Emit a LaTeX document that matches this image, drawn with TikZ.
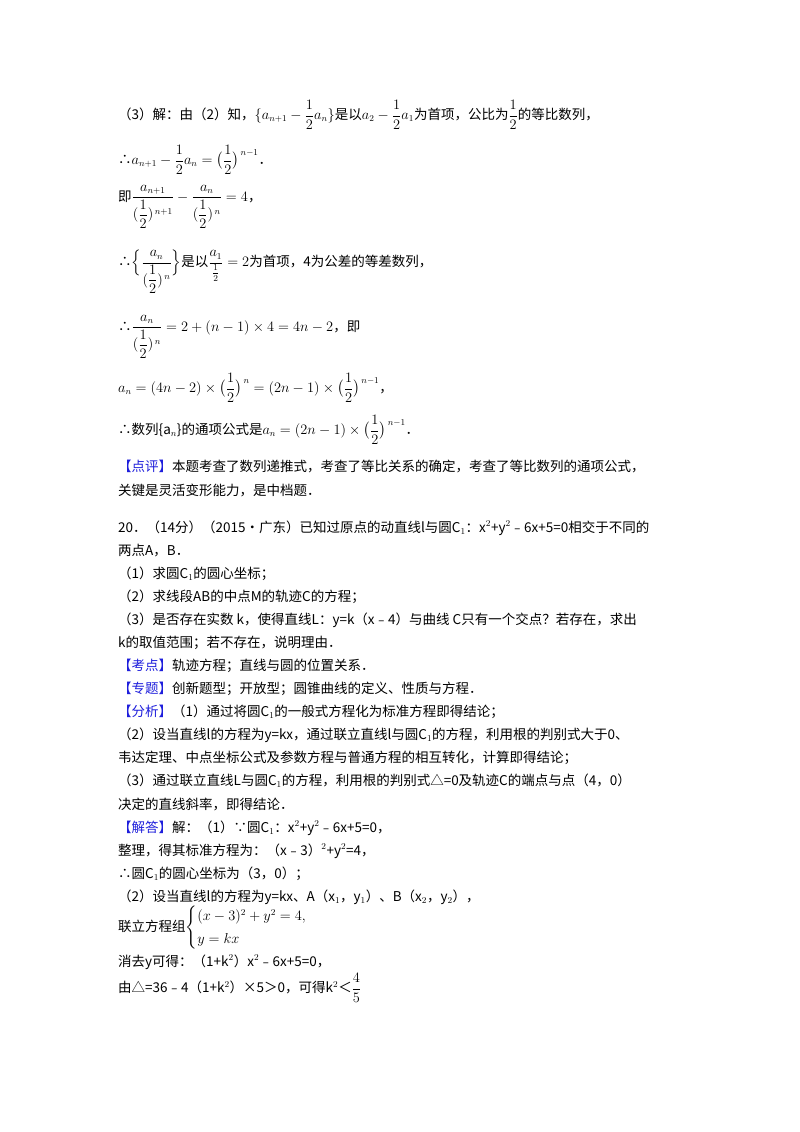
\documentclass[tikz,border=0pt]{standalone}
\usepackage{fontspec}
\usepackage{amsmath}
\setmainfont{Noto Sans CJK SC}
\definecolor{tag}{RGB}{30,30,220}
\newcommand{\hf}{\dfrac{1}{2}}
\begin{document}
\begin{tikzpicture}[x=1pt,y=-1pt,every node/.style={anchor=west,inner sep=0pt,font=\fontsize{13.5}{16}\selectfont}]
\useasboundingbox[fill=white] (0,0) rectangle (800,1132);
\def\L{118}
\node (l1) at (\L,115) {（3）解：由（2）知，$\{a_{n+1}-\hf a_n\}$是以$a_2-\hf a_1$为首项，公比为$\hf$的等比数列，};
\node (l2) at (\L,160) {∴$a_{n+1}-\hf a_n=\bigl(\hf\bigr)^{\,n-1}$．};
\node (l3) at (\L,207) {即$\dfrac{a_{n+1}}{(\hf)^{\,n+1}}-\dfrac{a_n}{(\hf)^{\,n}}=4$，};
\node (l4) at (\L,272) {∴$\Bigl\{\dfrac{a_n}{(\hf)^{\,n}}\Bigr\}$是以$\dfrac{a_1}{\frac12}=2$为首项，4为公差的等差数列，};
\node (l5) at (\L,337) {∴$\dfrac{a_n}{(\hf)^{\,n}}=2+(n-1)\times4=4n-2$，即};
\node (l6) at (\L,388) {$a_n=(4n-2)\times\bigl(\hf\bigr)^{\,n}=(2n-1)\times\bigl(\hf\bigr)^{\,n-1}$，};
\node (l7) at (\L,430) {∴数列\{a$_n$\}的通项公式是$a_n=(2n-1)\times\bigl(\hf\bigr)^{\,n-1}$．};
\node (l8) at (\L,466) {{\color{tag}【点评】}本题考查了数列递推式，考查了等比关系的确定，考查了等比数列的通项公式，};
\node (l9) at (\L,490) {关键是灵活变形能力，是中档题．};
\node (p1) at (\L,528) {20．（14分）（2015•广东）已知过原点的动直线l与圆C$_1$：x$^2$+y$^2$﹣6x+5=0相交于不同的};
\node (p2) at (\L,551) {两点A，B．};
\node (p3) at (\L,574) {（1）求圆C$_1$的圆心坐标；};
\node (p4) at (\L,597) {（2）求线段AB的中点M的轨迹C的方程；};
\node (p5) at (\L,620) {（3）是否存在实数 k，使得直线L：y=k（x﹣4）与曲线 C只有一个交点？若存在，求出};
\node (p6) at (\L,643) {k的取值范围；若不存在，说明理由．};
\node (p7) at (\L,666) {{\color{tag}【考点】}轨迹方程；直线与圆的位置关系．};
\node (p8) at (\L,689) {{\color{tag}【专题】}创新题型；开放型；圆锥曲线的定义、性质与方程．};
\node (p9) at (\L,712) {{\color{tag}【分析】}（1）通过将圆C$_1$的一般式方程化为标准方程即得结论；};
\node (p10) at (\L,735) {（2）设当直线l的方程为y=kx，通过联立直线l与圆C$_1$的方程，利用根的判别式大于0、};
\node (p11) at (\L,758) {韦达定理、中点坐标公式及参数方程与普通方程的相互转化，计算即得结论；};
\node (p12) at (\L,781) {（3）通过联立直线L与圆C$_1$的方程，利用根的判别式△=0及轨迹C的端点与点（4，0）};
\node (p13) at (\L,804) {决定的直线斜率，即得结论．};
\node (p14) at (\L,828) {{\color{tag}【解答】}解：（1）∵圆C$_1$：x$^2$+y$^2$﹣6x+5=0，};
\node (p15) at (\L,851) {整理，得其标准方程为：（x﹣3）$^2$+y$^2$=4，};
\node (p16) at (\L,874) {∴圆C$_1$的圆心坐标为（3，0）；};
\node (p17) at (\L,897) {（2）设当直线l的方程为y=kx、A（x$_1$，y$_1$）、B（x$_2$，y$_2$），};
\node (p18) at (\L,928) {联立方程组$\begin{cases}(x-3)^2+y^2=4,\\[4pt] y=kx\end{cases}$};
\node (p19) at (\L,962) {消去y可得：（1+k$^2$）x$^2$﹣6x+5=0，};
\node (p20) at (\L,988) {由△=36﹣4（1+k$^2$）×5＞0，可得k$^2$＜$\dfrac45$};
\end{tikzpicture}
\end{document}
